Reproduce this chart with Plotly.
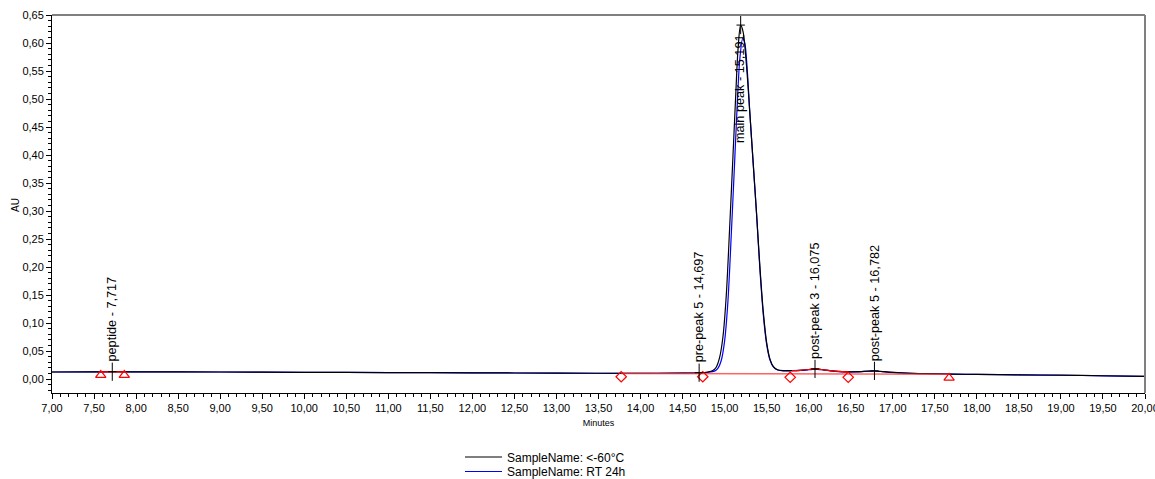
import plotly.graph_objects as go

# Retention time (min) and absorbance (AU) for the two samples
time_cold = [7.00, 7.50, 7.717, 8.00, 9.00, 10.00, 11.00, 12.00, 13.00, 14.00, 14.50,
             14.70, 14.80, 14.86, 14.90, 14.94, 14.98, 15.02, 15.06, 15.10, 15.13,
             15.16, 15.19, 15.22, 15.26, 15.30, 15.34, 15.38, 15.42, 15.46, 15.50,
             15.54, 15.58, 15.63, 15.70, 15.80, 15.90, 16.00, 16.075, 16.15, 16.25,
             16.35, 16.47, 16.60, 16.70, 16.782, 16.90, 17.10, 17.40, 17.70, 18.00,
             18.50, 19.00, 19.50, 20.00]
au_cold = [0.0125, 0.0128, 0.0130, 0.0128, 0.0125, 0.0120, 0.0115, 0.0110, 0.0105, 0.0102, 0.0105,
           0.0112, 0.0125, 0.0150, 0.0210, 0.0380, 0.0750, 0.1500, 0.2700, 0.4000, 0.5000,
           0.5900, 0.6320, 0.6200, 0.5600, 0.4750, 0.3850, 0.2950, 0.2000, 0.1200, 0.0650,
           0.0350, 0.0220, 0.0165, 0.0150, 0.0150, 0.0155, 0.0170, 0.0180, 0.0170, 0.0150,
           0.0135, 0.0128, 0.0130, 0.0140, 0.0145, 0.0130, 0.0110, 0.0095, 0.0088, 0.0082,
           0.0075, 0.0068, 0.0058, 0.0048]

time_rt = [7.00, 7.50, 7.717, 8.00, 9.00, 10.00, 11.00, 12.00, 13.00, 14.00, 14.50,
           14.70, 14.80, 14.88, 14.92, 14.96, 15.00, 15.04, 15.08, 15.12, 15.15,
           15.18, 15.215, 15.24, 15.27, 15.30, 15.34, 15.38, 15.42, 15.46, 15.50,
           15.54, 15.58, 15.63, 15.70, 15.80, 15.90, 16.00, 16.075, 16.15, 16.25,
           16.35, 16.47, 16.60, 16.70, 16.782, 16.90, 17.10, 17.40, 17.70, 18.00,
           18.50, 19.00, 19.50, 20.00]
au_rt = [0.0125, 0.0128, 0.0130, 0.0128, 0.0125, 0.0120, 0.0115, 0.0110, 0.0105, 0.0102, 0.0105,
         0.0110, 0.0120, 0.0140, 0.0190, 0.0330, 0.0680, 0.1400, 0.2600, 0.3900, 0.4900,
         0.5700, 0.6080, 0.6000, 0.5500, 0.4750, 0.3850, 0.2950, 0.1950, 0.1150, 0.0620,
         0.0340, 0.0215, 0.0160, 0.0145, 0.0148, 0.0153, 0.0165, 0.0175, 0.0165, 0.0148,
         0.0133, 0.0127, 0.0129, 0.0138, 0.0143, 0.0128, 0.0108, 0.0094, 0.0087, 0.0081,
         0.0074, 0.0067, 0.0057, 0.0047]

# Integrated peaks: name, apex time, apex height
peak_names = ["peptide", "pre-peak 5", "main peak", "post-peak 3", "post-peak 5"]
peak_times = [7.717, 14.697, 15.191, 16.075, 16.782]
peak_heights = [0.0130, 0.0113, 0.6320, 0.0180, 0.0145]

# Integration start/end marks
tri_times = [7.58, 7.86, 17.67]
tri_au = [0.007, 0.007, 0.002]
dia_times = [13.77, 14.74, 15.78, 16.47]
dia_au = [0.004, 0.004, 0.003, 0.003]

# Drawn baselines
base_pep_t = [7.58, 7.86]
base_pep_au = [0.0128, 0.0129]
base_main_t = [13.77, 17.67]
base_main_au = [0.0098, 0.0086]

# Axis ticks
x_ticks = [7.0 + 0.5 * i for i in range(27)]
y_ticks = [0.05 * i for i in range(14)]

FONT = "Liberation Sans, Arial, sans-serif"

fig = go.Figure()

fig.add_trace(go.Scatter(x=time_rt, y=au_rt, mode="lines", name="SampleName: RT 24h",
                         line=dict(color="#0000ff", width=1.2, shape="spline", smoothing=0.8),
                         legend="legend2"))
fig.add_trace(go.Scatter(x=time_cold, y=au_cold, mode="lines", name="SampleName: <-60°C",
                         line=dict(color="#000000", width=1.2, shape="spline", smoothing=0.8),
                         legend="legend"))

# integration baselines and the fitted region around post-peak 3
fig.add_trace(go.Scatter(x=base_main_t, y=base_main_au, mode="lines", showlegend=False,
                         line=dict(color="rgba(255,60,60,0.8)", width=1.6)))
fig.add_trace(go.Scatter(x=base_pep_t, y=base_pep_au, mode="lines", showlegend=False,
                         line=dict(color="#ff0000", width=1.2)))
seg = [i for i, t in enumerate(time_cold) if 15.78 <= t <= 16.47]
fig.add_trace(go.Scatter(x=[time_cold[i] for i in seg], y=[au_cold[i] for i in seg],
                         mode="lines", showlegend=False,
                         line=dict(color="#ff0000", width=1.2, shape="spline", smoothing=0.8)))

fig.add_trace(go.Scatter(x=tri_times, y=tri_au, mode="markers", showlegend=False,
                         marker=dict(symbol="triangle-up-open", size=9, color="#ff0000",
                                     line=dict(width=1.2, color="#ff0000"))))
fig.add_trace(go.Scatter(x=dia_times, y=dia_au, mode="markers", showlegend=False,
                         marker=dict(symbol="diamond-open", size=8, color="#ff0000",
                                     line=dict(width=1.2, color="#ff0000"))))

# apex crosses
fig.add_trace(go.Scatter(x=peak_times, y=peak_heights, mode="markers", showlegend=False,
                         marker=dict(symbol="line-ns", size=13, line=dict(width=1, color="#000"))))
fig.add_trace(go.Scatter(x=peak_times, y=peak_heights, mode="markers", showlegend=False,
                         marker=dict(symbol="line-ew", size=6, line=dict(width=1, color="#000"))))

for name, t, h in zip(peak_names, peak_times, peak_heights):
    label = f"{name} - {t:.3f}".replace(".", ",")
    if name == "main peak":
        fig.add_annotation(x=t, y=0.418, text=label, textangle=-90, showarrow=False,
                           xanchor="center", yanchor="bottom",
                           font=dict(family=FONT, size=12.7, color="#000"))
    else:
        fig.add_annotation(x=t, y=h, text=label, textangle=-90, showarrow=False,
                           xanchor="center", yanchor="bottom", yshift=8,
                           font=dict(family=FONT, size=12.7, color="#000"))

# y-axis title
fig.add_annotation(xref="paper", yref="paper", x=-0.034, y=0.497, text="AU", textangle=-90,
                   showarrow=False, xanchor="center", yanchor="middle",
                   font=dict(family=FONT, size=10, color="#000"))

# grey frame on top and right
fig.add_shape(type="line", xref="paper", yref="paper", x0=0, x1=1, y0=1, y1=1,
              line=dict(color="#808080", width=2))
fig.add_shape(type="line", xref="paper", yref="paper", x0=1, x1=1, y0=0, y1=1,
              line=dict(color="#808080", width=2))

legend_style = dict(xref="container", yref="container", x=460 / 1155, xanchor="left",
                    yanchor="middle", itemwidth=37,
                    font=dict(family=FONT, size=12, color="#000"),
                    bgcolor="rgba(0,0,0,0)")

fig.update_layout(
    width=1155, height=479,
    margin=dict(l=52, r=10, t=15, b=86, autoexpand=False),
    paper_bgcolor="white", plot_bgcolor="white",
    separators=",.",
    font=dict(family=FONT, size=11, color="#000"),
    showlegend=True,
    legend=dict(legend_style, y=1 - 457 / 479),
    legend2=dict(legend_style, y=1 - 471.5 / 479),
    xaxis=dict(range=[7, 20], tickmode="array", tickvals=x_ticks, tickformat=".2f",
               ticks="outside", ticklen=5, tickwidth=1, tickcolor="#000", automargin=False,
               ticklabeloverflow="allow",
               minor=dict(dtick=0.1, tick0=7, ticks="outside", ticklen=3, tickcolor="#000"),
               showline=True, linecolor="#000", linewidth=1, showgrid=False, zeroline=False,
               tickfont=dict(size=11),
               title=dict(text="Minutes", font=dict(size=9), standoff=6)),
    yaxis=dict(range=[-0.025, 0.65], tickmode="array", tickvals=y_ticks, tickformat=".2f",
               ticks="outside", ticklen=5, tickwidth=1, tickcolor="#000", automargin=False,
               minor=dict(dtick=0.01, tick0=0, ticks="outside", ticklen=3, tickcolor="#000"),
               showline=True, linecolor="#000", linewidth=1, showgrid=False, zeroline=False,
               tickfont=dict(size=11)),
)

fig.write_html("out.html")
